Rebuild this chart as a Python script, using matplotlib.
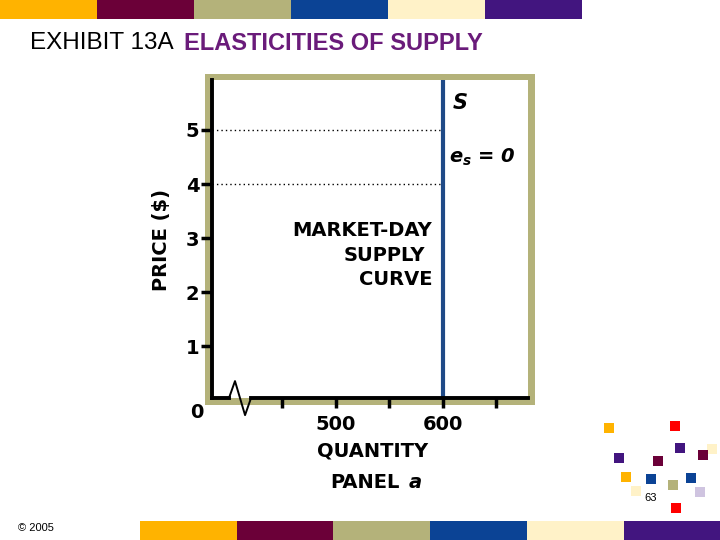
import matplotlib
matplotlib.use("Agg")
import matplotlib.pyplot as plt
from matplotlib.patches import Rectangle

plt.rcParams['font.family'] = ['Liberation Sans', 'DejaVu Sans']
plt.rcParams['mathtext.fontset'] = 'custom'
plt.rcParams['mathtext.it'] = 'DejaVu Sans:italic:bold'
BOLD = ['DejaVu Sans']

# donnees du graphe
price_ticks = [1, 2, 3, 4, 5]
qty_ticks = [450, 500, 550, 600, 650]
qty_labels = ['', '500', '', '600', '']
supply_qty = 600          # offre fixe (es = 0)
dotted_prices = [4, 5]

# couleurs de la charte
band_colors = ['#FFB300', '#6B0038', '#B4B27A', '#0B4395', '#FFF2C8', '#42157F']
khaki = '#B4B27A'
title_purple = '#6A1B7A'
line_blue = '#1F4A87'

W, H = 720, 540
fig = plt.figure(figsize=(W / 100, H / 100), dpi=100)


def fx(x):
    return x / W


def fy(y):
    return 1 - y / H


def px_rect(x, y, w, h, color, z=-1):
    fig.patches.append(Rectangle((fx(x), fy(y + h)), w / W, h / H, transform=fig.transFigure,
                                 facecolor=color, edgecolor='none', zorder=z))


# bandes haut et bas
for i, c in enumerate(band_colors):
    px_rect(i * 96.9, 0, 97.5, 19, c)
    px_rect(140 + i * 96.7, 521, 97.5, 19, c)

# titre
fig.text(fx(30), fy(43), 'EXHIBIT 13A', fontsize=17.5, color='black', va='center', ha='left')
fig.text(fx(184), fy(43), 'ELASTICITIES OF SUPPLY', fontsize=17, color=title_purple,
         fontweight='bold', va='center', ha='left')

# cadre kaki
px_rect(205, 74, 330, 331, khaki, z=-1)

ax_l, ax_r, ax_t, ax_b = 212, 528, 80, 398
ax = fig.add_axes([fx(ax_l), fy(ax_b), (ax_r - ax_l) / W, (ax_b - ax_t) / H])
ax.set_zorder(2)
ax.set_facecolor('white')

# echelles: 500 -> x=336px, 600 -> x=443px ; prix 1 -> 346px, 0 -> 400px
sx = 1.07
sy = 54.0
x0 = 600 - (443 - ax_l) / sx
x1 = 600 + (ax_r - 443) / sx
y0 = (400 - ax_b) / sy
y1 = (400 - ax_t) / sy
ax.set_xlim(x0, x1)
ax.set_ylim(y0, y1)

for s in ['top', 'right', 'bottom']:
    ax.spines[s].set_visible(False)
ax.spines['left'].set_linewidth(2.8)
ax.spines['left'].set_color('black')

ax.set_yticks(price_ticks)
ax.set_yticklabels([str(p) for p in price_ticks])
ax.set_xticks(qty_ticks)
ax.set_xticklabels(qty_labels)
ax.tick_params(axis='y', direction='out', length=8, width=2.5, pad=1, labelsize=14)
ax.tick_params(axis='x', direction='out', length=7, width=2.5, pad=5, labelsize=14)
for lab in ax.get_yticklabels() + ax.get_xticklabels():
    lab.set_fontweight('bold')
    lab.set_family(BOLD)

# axe horizontal avec coupure
ax.plot([x0, 400], [y0, y0], color='black', lw=2.8, clip_on=False, zorder=5)
ax.plot([420.6, x1], [y0, y0], color='black', lw=2.8, clip_on=False, zorder=5)
ax.plot([400, 405.6, 415, 420.6], [y0, 0.35, -0.28, y0], color='black', lw=1.4,
        clip_on=False, zorder=6)

# courbe d'offre verticale
ax.axvline(supply_qty, color=line_blue, lw=3, zorder=4)
for p in dotted_prices:
    ax.plot([x0, supply_qty - 3], [p, p], color='black', lw=1, linestyle=(0, (1, 2.2)))

ax.text(supply_qty + 9, 5.5, 'S', fontsize=15, fontweight='bold', fontstyle='italic',
        family=BOLD, va='center', ha='left')
ax.text(supply_qty + 6, 4.5, r'$e_s$ = 0', fontsize=14, fontweight='bold', fontstyle='italic',
        family=BOLD, va='center', ha='left')

lab_kw = dict(fontsize=14, fontweight='bold', family=BOLD, va='center')
ax.text(590, 3.13, 'MARKET-DAY', ha='right', **lab_kw)
ax.text(583, 2.68, 'SUPPLY', ha='right', **lab_kw)
ax.text(590, 2.24, 'CURVE', ha='right', **lab_kw)

fig.text(fx(197), fy(412), '0', ha='center', **lab_kw)
fig.text(fx(161), fy(240), 'PRICE ($)', rotation=90, ha='center', **lab_kw)
fig.text(fx(373), fy(451), 'QUANTITY', ha='center', **lab_kw)
fig.text(fx(400), fy(482), 'PANEL', ha='right', **lab_kw)
fig.text(fx(409), fy(482), 'a', fontstyle='italic', ha='left', **lab_kw)

# petits carres decoratifs
deco = [(609, 428, '#FFB300'), (675, 426, '#FF0000'), (680, 448, '#42157F'),
        (712, 449, '#FFF2C8'), (703, 455, '#6B0038'), (619, 458, '#42157F'),
        (658, 461, '#6B0038'), (626, 477, '#FFB300'), (651, 479, '#0B4395'),
        (691, 478, '#0B4395'), (673, 485, '#B4B27A'), (636, 491, '#FFF2C8'),
        (700, 492, '#CFC4E0'), (676, 508, '#FF0000')]
for x, y, c in deco:
    px_rect(x - 5, y - 5, 10, 10, c, z=1)

fig.text(fx(651), fy(498), '63', fontsize=8, ha='center', va='center')
fig.text(fx(18), fy(528), '© 2005', fontsize=8, ha='left', va='center')

fig.savefig('out.png', dpi=100)
